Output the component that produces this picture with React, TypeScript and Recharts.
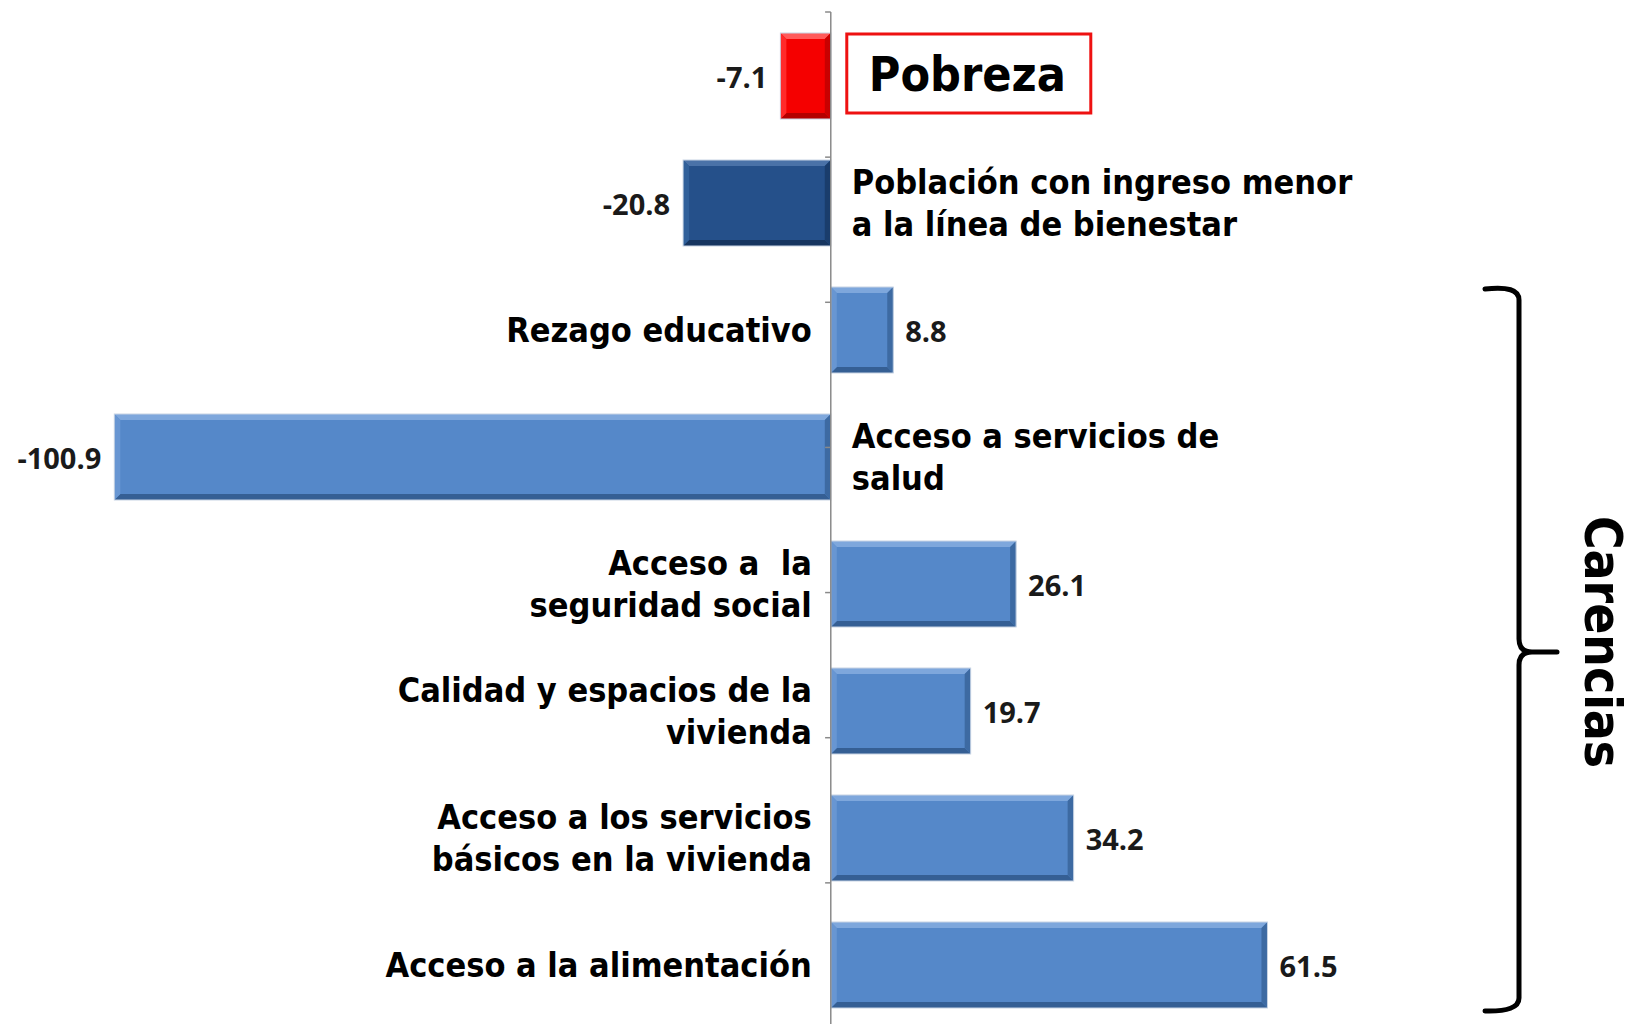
import React from 'react'
import { BarChart, Bar, XAxis, YAxis, ReferenceLine } from 'recharts'

const categories = [
  'Pobreza',
  'Población con ingreso menor a la línea de bienestar',
  'Rezago educativo',
  'Acceso a servicios de salud',
  'Acceso a  la seguridad social',
  'Calidad y espacios de la vivienda',
  'Acceso a los servicios básicos en la vivienda',
  'Acceso a la alimentación'
]

// how each category name is broken over lines
const labelLines = [
  ['Pobreza'],
  ['Población con ingreso menor', 'a la línea de bienestar'],
  ['Rezago educativo'],
  ['Acceso a servicios de', 'salud'],
  ['Acceso a  la', 'seguridad social'],
  ['Calidad y espacios de la', 'vivienda'],
  ['Acceso a los servicios', 'básicos en la vivienda'],
  ['Acceso a la alimentación']
]

const values = [-7.1, -20.8, 8.8, -100.9, 26.1, 19.7, 34.2, 61.5]

const barKinds = ['red', 'dark', 'light', 'light', 'light', 'light', 'light', 'light']

const boundaries = [0, 1, 2, 3, 4, 5, 6, 7, 8]

const palette: Record<string, { main: string; top: string; bottom: string; left: string; right: string }> = {
  red: { main: '#f50000', top: '#ff5a5a', bottom: '#b40000', left: '#ff2a2a', right: '#c80000' },
  dark: { main: '#25508a', top: '#4a72a8', bottom: '#163560', left: '#30609a', right: '#1a3d6c' },
  light: { main: '#5588c9', top: '#7ea7dc', bottom: '#355f94', left: '#6896d2', right: '#3d6aa2' }
}

const data = categories.map((name, i) => ({
  name,
  value: values[i],
  lines: labelLines[i],
  kind: barKinds[i]
}))

const catFont = "'DejaVu Sans Condensed', 'DejaVu Sans', sans-serif"
const valFont = "'Open Sans', 'Liberation Sans', sans-serif"

const BevelBar = (props: any) => {
  const { x, y, width, height, payload, index } = props
  const v = payload.value
  const left = Math.min(x, x + width)
  const w = Math.abs(width)
  const top = Math.min(y, y + height)
  const h = Math.abs(height)
  const right = left + w
  const bottom = top + h
  const zero = v < 0 ? right : left
  const cy = top + h / 2
  const b = 6
  const c = palette[payload.kind]
  const lines: string[] = payload.lines
  const lineGap = 42

  const catX = v < 0 ? zero + 21 : zero - 19
  const anchor = v < 0 ? 'start' : 'end'
  const isFirst = index === 0

  return (
    <g>
      <rect x={left} y={top} width={w} height={h} fill={c.main} />
      <polygon points={`${left},${top} ${right},${top} ${right - b},${top + b} ${left + b},${top + b}`} fill={c.top} />
      <polygon points={`${left},${bottom} ${right},${bottom} ${right - b},${bottom - b} ${left + b},${bottom - b}`} fill={c.bottom} />
      <polygon points={`${left},${top} ${left + b},${top + b} ${left + b},${bottom - b} ${left},${bottom}`} fill={c.left} />
      <polygon points={`${right},${top} ${right - b},${top + b} ${right - b},${bottom - b} ${right},${bottom}`} fill={c.right} />
      <rect x={left} y={top} width={w} height={h} fill="none" stroke="#c8d4e4" strokeWidth={1} />
      <text
        x={v < 0 ? left - 13 : right + 12}
        y={cy}
        textAnchor={v < 0 ? 'end' : 'start'}
        dominantBaseline="central"
        fontFamily={valFont}
        fontWeight={700}
        fontSize={29}
        fill="#1a1a1a"
      >
        {v.toFixed(1)}
      </text>
      {isFirst ? (
        <g>
          <rect x={zero + 16} y={top + 1} width={244} height={h - 7} fill="#fff" stroke="#ee1111" strokeWidth={3} />
          <text
            x={zero + 38}
            y={cy - 2}
            dominantBaseline="central"
            fontFamily={catFont}
            fontWeight={700}
            fontSize={48}
            fill="#000"
          >
            {lines[0]}
          </text>
        </g>
      ) : (
        <text
          x={catX}
          y={cy}
          textAnchor={anchor}
          fontFamily={catFont}
          fontWeight={700}
          fontSize={34}
          fill="#000"
          style={{ whiteSpace: 'pre' }}
        >
          {lines.map((ln, k) => (
            <tspan
              key={k}
              x={catX}
              y={cy + (k - (lines.length - 1) / 2) * lineGap}
              dominantBaseline="central"
            >
              {ln}
            </tspan>
          ))}
        </text>
      )}
    </g>
  )
}

const Brace = () => (
  <svg
    width={1636}
    height={1024}
    style={{ position: 'absolute', left: 0, top: 0, pointerEvents: 'none' }}
  >
    <path
      d="M1485,289 Q1519,285 1519,300 L1519,639 Q1519,652 1532,652 L1557,652 M1532,652 Q1519,652 1519,665 L1519,998 Q1519,1012 1485,1011"
      fill="none"
      stroke="#000"
      strokeWidth={5}
      strokeLinecap="round"
    />
    <text
      x={1602}
      y={642}
      transform="rotate(90 1602 642)"
      textAnchor="middle"
      dominantBaseline="central"
      fontFamily={catFont}
      fontWeight={700}
      fontSize={51}
      fill="#000"
    >
      Carencias
    </text>
  </svg>
)

export default function App() {
  return (
    <div
      style={{
        position: 'absolute',
        left: 0,
        top: 0,
        width: 1636,
        height: 1024,
        overflow: 'hidden',
        background: '#fff'
      }}
    >
      <BarChart
        width={1636}
        height={1030}
        data={data}
        layout="vertical"
        margin={{ top: 12, right: 0, bottom: 2, left: 0 }}
        barSize={86}
      >
        <XAxis type="number" domain={[-117, 113.4]} hide allowDataOverflow />
        <YAxis type="category" dataKey="name" hide />
        <YAxis yAxisId="num" type="number" domain={[0, 8]} reversed hide />
        <ReferenceLine x={0} stroke="#8a8a8a" strokeWidth={1.5} />
        {boundaries.map(k => (
          <ReferenceLine
            key={k}
            yAxisId="num"
            segment={[{ x: -0.8, y: k }, { x: 0, y: k }]}
            stroke="#8a8a8a"
            strokeWidth={1.5}
          />
        ))}
        <Bar dataKey="value" shape={BevelBar} isAnimationActive={false} />
      </BarChart>
      <Brace />
    </div>
  )
}
